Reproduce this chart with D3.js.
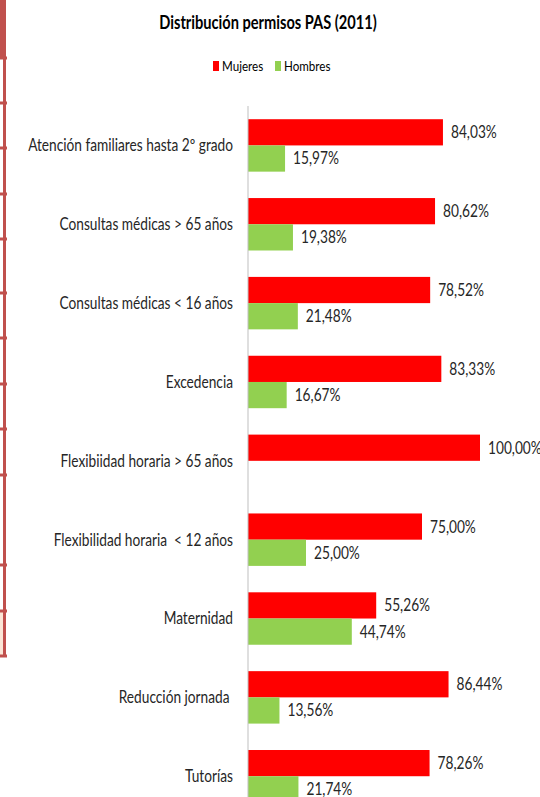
<!DOCTYPE html>
<html>
<head>
<meta charset="utf-8">
<script src="https://cdn.jsdelivr.net/npm/d3@7"></script>
<style>
  body { margin: 0; background: #fff; }
  svg { display: block; }
</style>
</head>
<body>
<div id="chart"></div>
<script>
// data
const categories = [
    'Atención familiares hasta 2º grado',
    'Consultas médicas > 65 años',
    'Consultas médicas < 16 años',
    'Excedencia',
    'Flexibiidad horaria > 65 años',
    'Flexibilidad horaria  < 12 años',
    'Maternidad',
    'Reducción jornada ',
    'Tutorías'
];
const mujeres = [84.03, 80.62, 78.52, 83.33, 100.00, 75.00, 55.26, 86.44, 78.26];
const hombres = [15.97, 19.38, 21.48, 16.67, null, 25.00, 44.74, 13.56, 21.74];
const seriesNames = ['Mujeres', 'Hombres'];
const seriesColors = ['#FF0000', '#92D050'];
// decorative frame ticks on the left edge
const frameTicks = [58, 103, 148, 194, 239, 293, 338, 384, 429, 475, 565, 611, 656];

const width = 540, height = 797;
const font = 'Lato, "Open Sans", sans-serif';
// the source picture is squeezed sideways, so text is narrowed to match
const squeeze = 0.83;

const svg = d3.select('#chart')
    .append('svg')
    .attr('width', width)
    .attr('height', height);

// left frame decoration
svg.append('rect').attr('x', 0).attr('y', 0).attr('width', 6).attr('height', 58).attr('fill', '#C0504D');
svg.append('rect').attr('x', 0).attr('y', 611).attr('width', 3).attr('height', 45).attr('fill', '#FBE5D6');
svg.append('line')
    .attr('x1', 4.5).attr('x2', 4.5).attr('y1', 58).attr('y2', 657)
    .attr('stroke', '#C0504D').attr('stroke-width', 3);
svg.selectAll('.ftick')
    .data(frameTicks)
    .enter()
    .append('line')
    .attr('class', 'ftick')
    .attr('x1', 0).attr('x2', 7)
    .attr('y1', d => d).attr('y2', d => d)
    .attr('stroke', '#C0504D').attr('stroke-width', 3);

// title
svg.append('text')
    .attr('transform', 'translate(268,29) scale(0.77,1)')
    .attr('text-anchor', 'middle')
    .attr('font-family', font)
    .attr('font-weight', 'bold')
    .attr('font-size', '19px')
    .attr('fill', '#000')
    .text('Distribución permisos PAS (2011)');

// legend
const legend = svg.append('g').attr('transform', 'translate(213,61)');
const legendX = [0, 62];
seriesNames.forEach((name, i) => {
    legend.append('rect')
        .attr('x', legendX[i]).attr('y', 0)
        .attr('width', 6).attr('height', 10)
        .attr('fill', seriesColors[i]);
    legend.append('text')
        .attr('transform', 'translate(' + (legendX[i] + 9) + ',10) scale(' + squeeze + ',1)')
        .attr('font-family', font)
        .attr('font-size', '14px')
        .attr('fill', '#000')
        .text(name);
});

// scales
const x = d3.scaleLinear().domain([0, 100]).range([248, 480]);
const y = d3.scaleBand()
    .domain(categories)
    .range([106, 106 + 9 * 78.85])
    .paddingInner(0.335)
    .paddingOuter(0.1675);
const sub = d3.scaleBand()
    .domain(seriesNames)
    .range([0, y.bandwidth()]);

const rows = categories.map((c, i) => ({ cat: c, vals: [mujeres[i], hombres[i]] }));

// bars
const group = svg.selectAll('.grp')
    .data(rows)
    .enter()
    .append('g')
    .attr('class', 'grp')
    .attr('transform', d => 'translate(0,' + y(d.cat) + ')');

group.selectAll('rect')
    .data(d => d.vals.map((v, i) => ({ v: v, s: seriesNames[i], c: seriesColors[i] })).filter(e => e.v != null))
    .enter()
    .append('rect')
    .attr('x', x(0))
    .attr('y', d => sub(d.s))
    .attr('width', d => x(d.v) - x(0))
    .attr('height', sub.bandwidth())
    .attr('fill', d => d.c);

// value labels
group.selectAll('.val')
    .data(d => d.vals.map((v, i) => ({ v: v, s: seriesNames[i] })).filter(e => e.v != null))
    .enter()
    .append('text')
    .attr('class', 'val')
    .attr('transform', d => 'translate(' + (x(d.v) + 8) + ',' + (sub(d.s) + sub.bandwidth() / 2) + ') scale(' + squeeze + ',1)')
    .attr('dy', '0.36em')
    .attr('font-family', font)
    .attr('font-size', '16.5px')
    .attr('fill', '#262626')
    .text(d => d.v.toFixed(2).replace('.', ',') + '%');

// category axis
const axis = svg.append('g')
    .attr('transform', 'translate(' + x(0) + ',0)')
    .call(d3.axisLeft(y).tickSize(0).tickPadding(15));
axis.select('.domain').attr('stroke', '#BFBFBF').attr('d', 'M0,106V' + height);
axis.selectAll('.tick text')
    .attr('x', 0)
    .attr('dy', '0.36em')
    .attr('transform', 'translate(-15,0) scale(' + squeeze + ',1)')
    .attr('font-family', font)
    .attr('font-size', '16.5px')
    .attr('fill', '#262626')
    .style('white-space', 'pre');
</script>
</body>
</html>
